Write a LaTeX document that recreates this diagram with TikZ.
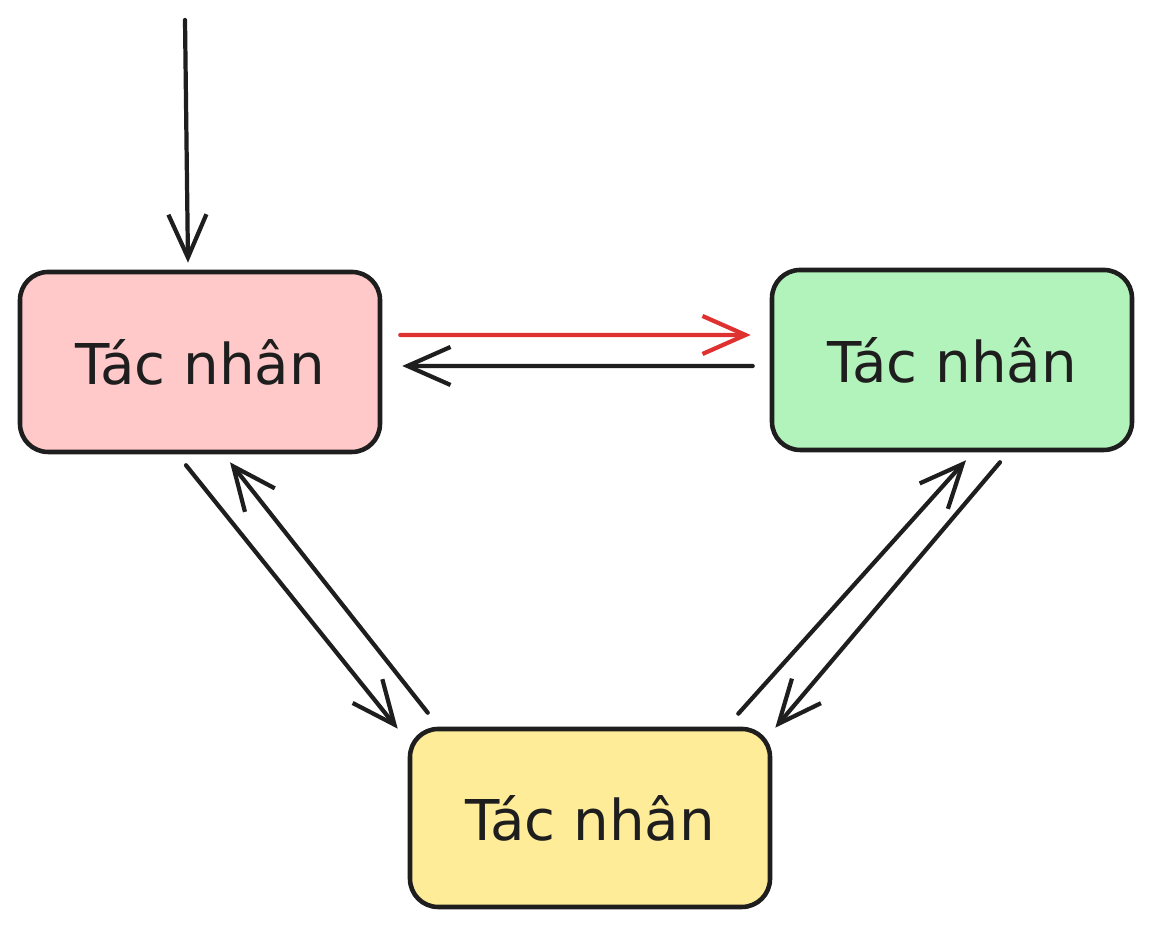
\documentclass[tikz,border=0pt]{standalone}
\usepackage{fontspec}
\setmainfont{DejaVu Sans}
\usepackage{xcolor}
\usetikzlibrary{calc}
\usetikzlibrary{arrows.meta}
\definecolor{pinkfill}{HTML}{FFC9C9}
\definecolor{greenfill}{HTML}{B2F2BB}
\definecolor{yellowfill}{HTML}{FFEC99}
\definecolor{inkred}{HTML}{E03131}
\definecolor{ink}{HTML}{1E1E1E}
\tikzstyle{every node}=[font=\fontsize{16}{19}\selectfont]
\tikzstyle{agent}=[draw=ink, line width=1.3pt, rounded corners=8pt, minimum width=3.6cm, minimum height=1.8cm, text=ink]
\tikzstyle{link}=[draw=ink, line width=1.2pt, ->]

\begin{document}
\begin{tikzpicture}[>={Straight Barb[length=4.3mm,width=3.8mm,line width=1.2pt]}, line cap=round]
            \fill[white] (0, 0) rectangle (11.52, 9.28);
            \useasboundingbox (0, 0) rectangle (11.52, 9.28);

            \node [agent, fill=pinkfill] (pink) at (2.00, 5.66) {Tác nhân};
            \node [agent, fill=greenfill] (green) at (9.52, 5.68) {Tác nhân};
            \node [agent, fill=yellowfill, minimum height=1.78cm] (yellow) at (5.90, 1.10) {Tác nhân};

            \coordinate (entry) at (1.85, 9.08);

            \draw [link] (entry) -- ($(pink.north)+(-0.12, 0.07)$);

            \draw [link, draw=inkred] ($(pink.east)+(0.18, 0.27)$) -- ($(green.west)+(-0.19, 0.25)$);
            \draw [link] ($(green.west)+(-0.17, -0.06)$) -- ($(pink.east)+(0.20, -0.04)$);

            \draw [link] ($(pink.south)+(-0.14, -0.11)$) -- ($(yellow.north west)+(-0.10, -0.02)$);
            \draw [link] ($(yellow.north west)+(0.20, 0.14)$) -- ($(pink.south)+(0.30, -0.08)$);

            \draw [link] ($(yellow.north east)+(-0.34, 0.13)$) -- ($(green.south)+(0.14, -0.08)$);
            \draw [link] ($(green.south)+(0.48, -0.10)$) -- ($(yellow.north east)+(0.03, -0.01)$);
        \end{tikzpicture}
\end{document}
